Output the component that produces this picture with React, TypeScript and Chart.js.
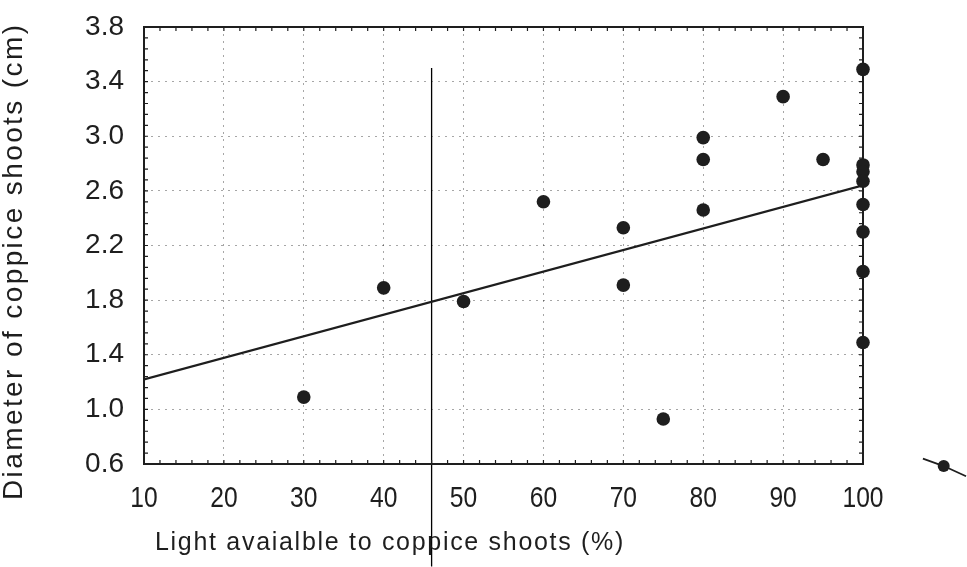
import React, { useEffect, useRef } from "react";
import { Chart, registerables } from "chart.js";

Chart.register(...registerables);

// ---- data ----
const xTickValues = [10, 20, 30, 40, 50, 60, 70, 80, 90, 100];
const yTickValues = [0.6, 1.0, 1.4, 1.8, 2.2, 2.6, 3.0, 3.4, 3.8];

const lightPct = [30, 40, 50, 60, 70, 70, 75, 80, 80, 80, 90, 95, 100, 100, 100, 100, 100, 100, 100, 100];
const diameterCm = [1.09, 1.89, 1.79, 2.52, 2.33, 1.91, 0.93, 2.99, 2.83, 2.46, 3.29, 2.83, 3.49, 2.79, 2.74, 2.67, 2.5, 2.3, 2.01, 1.49];

// regression line end points
const fitX = [10, 100];
const fitY = [1.22, 2.64];

// hand-drawn vertical marker line
const markerX = [46, 46];
const markerY = [3.5, -0.15];

// stray legend-like symbol at the bottom right (line + dot)
const symbolX = [107.5, 110.1, 112.9];
const symbolY = [0.64, 0.585, 0.51];

const xTitle = "Light avaialble to coppice shoots (%)";
const yTitle = "Diameter of coppice shoots (cm)";

const INK = "#1e1e1e";
const FONT = '"Liberation Sans", Arial, sans-serif';

const framePlugin = {
  id: "framePlugin",
  afterDraw(chart: any) {
    const { ctx, chartArea } = chart;
    const xs = chart.scales.x;
    const ys = chart.scales.y;
    ctx.save();
    // minor + major inward ticks on all four sides
    ctx.strokeStyle = INK;
    ctx.lineWidth = 1.2;
    const len = 4;
    ctx.beginPath();
    for (let i = 0; i < xTickValues.length - 1; i++) {
      const a = xTickValues[i];
      const b = xTickValues[i + 1];
      for (let k = 0; k < 5; k++) {
        const px = xs.getPixelForValue(a + ((b - a) * k) / 5);
        ctx.moveTo(px, chartArea.bottom);
        ctx.lineTo(px, chartArea.bottom - len);
        ctx.moveTo(px, chartArea.top);
        ctx.lineTo(px, chartArea.top + len);
      }
    }
    for (let i = 0; i < yTickValues.length - 1; i++) {
      const a = yTickValues[i];
      const b = yTickValues[i + 1];
      for (let k = 0; k < 5; k++) {
        const py = ys.getPixelForValue(a + ((b - a) * k) / 5);
        ctx.moveTo(chartArea.left, py);
        ctx.lineTo(chartArea.left + len, py);
        ctx.moveTo(chartArea.right, py);
        ctx.lineTo(chartArea.right - len, py);
      }
    }
    ctx.stroke();
    // frame
    ctx.lineWidth = 2;
    ctx.strokeRect(chartArea.left, chartArea.top, chartArea.right - chartArea.left, chartArea.bottom - chartArea.top);

    // stray symbol outside the plot (through the scales)
    ctx.lineWidth = 1.8;
    ctx.beginPath();
    symbolX.forEach((v, i) => {
      const px = xs.getPixelForValue(v);
      const py = ys.getPixelForValue(symbolY[i]);
      if (i === 0) ctx.moveTo(px, py);
      else ctx.lineTo(px, py);
    });
    ctx.stroke();
    ctx.fillStyle = INK;
    ctx.beginPath();
    ctx.arc(xs.getPixelForValue(symbolX[1]), ys.getPixelForValue(symbolY[1]), 6, 0, Math.PI * 2);
    ctx.fill();

    // x tick labels (condensed)
    ctx.font = `30px ${FONT}`;
    ctx.textAlign = "center";
    ctx.textBaseline = "alphabetic";
    xTickValues.forEach((v) => {
      const px = xs.getPixelForValue(v);
      ctx.save();
      ctx.translate(px, chartArea.bottom + 43);
      ctx.scale(0.82, 1);
      ctx.fillText(String(v), 0, 0);
      ctx.restore();
    });

    // axis titles
    ctx.textAlign = "left";
    ctx.font = `25px ${FONT}`;
    (ctx as any).letterSpacing = "1.7px";
    ctx.fillText(xTitle, chartArea.left + 11, chartArea.bottom + 86);

    ctx.translate(chartArea.left - 122, chartArea.bottom + 36);
    ctx.rotate(-Math.PI / 2);
    ctx.font = `28px ${FONT}`;
    (ctx as any).letterSpacing = "2.4px";
    ctx.fillText(yTitle, 0, 0);
    (ctx as any).letterSpacing = "0px";
    ctx.restore();
  },
};

export default function App() {
  const ref = useRef<HTMLCanvasElement | null>(null);

  useEffect(() => {
    if (!ref.current) return;
    const toPts = (xs: number[], ys: number[]) => xs.map((x, i) => ({ x, y: ys[i] }));
    const chart = new Chart(ref.current, {
      type: "scatter",
      data: {
        datasets: [
          {
            data: toPts(fitX, fitY),
            showLine: true,
            borderColor: INK,
            borderWidth: 2.2,
            pointRadius: 0,
          },
          {
            data: toPts(markerX, markerY),
            showLine: true,
            borderColor: "#000",
            borderWidth: 1.3,
            pointRadius: 0,
            clip: false,
          },
          {
            data: toPts(lightPct, diameterCm),
            pointRadius: 6.8,
            pointBackgroundColor: INK,
            pointBorderColor: INK,
            pointBorderWidth: 0,
            clip: false,
          },
        ],
      } as any,
      options: {
        animation: false,
        responsive: false,
        maintainAspectRatio: false,
        events: [],
        layout: { padding: { left: 0, right: 104, top: 27, bottom: 0 } },
        plugins: {
          legend: { display: false },
          tooltip: { enabled: false },
          title: { display: false },
        },
        scales: {
          x: {
            type: "linear",
            min: 10,
            max: 100,
            afterBuildTicks: (s: any) => {
              s.ticks = xTickValues.map((v) => ({ value: v }));
            },
            afterFit: (s: any) => {
              s.height = 103;
              s.paddingLeft = 0;
              s.paddingRight = 0;
            },
            border: { display: false, dash: [2, 5] },
            grid: { color: "rgba(0,0,0,0.35)", lineWidth: 1, drawTicks: false },
            ticks: { display: false },
          },
          y: {
            type: "linear",
            min: 0.6,
            max: 3.8,
            afterBuildTicks: (s: any) => {
              s.ticks = yTickValues.map((v) => ({ value: v }));
            },
            afterFit: (s: any) => {
              s.width = 144;
              s.paddingTop = 0;
              s.paddingBottom = 0;
            },
            border: { display: false, dash: [2, 5] },
            grid: { color: "rgba(0,0,0,0.35)", lineWidth: 1, drawTicks: false },
            ticks: {
              padding: 20,
              color: INK,
              font: { family: FONT, size: 28 },
              autoSkip: false,
              callback: (v: any) => Number(v).toFixed(1),
            },
          },
        },
      } as any,
      plugins: [framePlugin],
    });
    return () => chart.destroy();
  }, []);

  return (
    <div style={{ position: "absolute", left: 0, top: 0, width: 967, height: 567, background: "#fff" }}>
      <canvas ref={ref} width={967} height={567} style={{ display: "block", width: 967, height: 567 }} />
    </div>
  );
}
